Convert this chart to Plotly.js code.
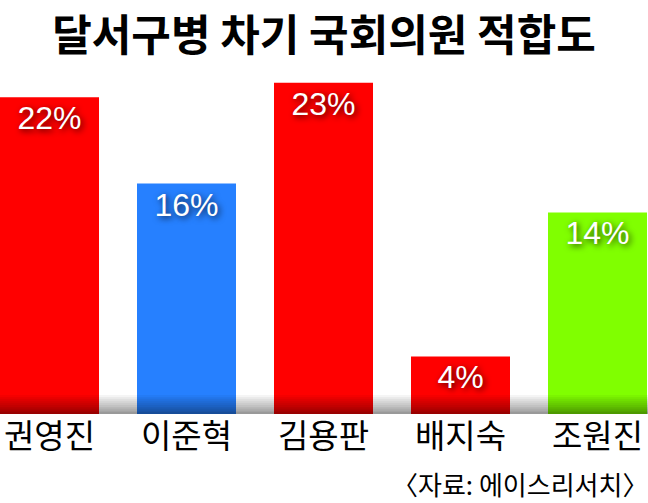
<!DOCTYPE html>
<html><head><meta charset="utf-8">
<script src="https://cdn.plot.ly/plotly-3.0.1.min.js"></script>
<style>html,body{margin:0;padding:0;background:#fff}</style>
</head><body>
<div id="chart" style="width:648px;height:503px"></div>
<script>
const candidates = ['권영진','이준혁','김용판','배지숙','조원진'];
const support = [22, 16, 23, 4, 14];
const barColors = ['#ff0000','#2680ff','#ff0000','#ff0000','#80ff00'];
const positions = [0,1,2,3,4];

const shapes = [];
const steps = 10;
for (let i = 0; i < steps; i++) {
  const h = 19/344;
  shapes.push({type:'rect', xref:'paper', yref:'paper', layer:'above',
    x0:0, x1:1, y0: (h/steps)*i, y1: (h/steps)*(i+1),
    fillcolor:'#000', opacity: 0.4*(1 - i/steps), line:{width:0}});
}

const trace = {
  type:'bar', x: positions, y: support,
  marker:{color: barColors, line:{width:0}},
  width: 99/137,
  text: support.map(v => v + '%'),
  textposition:'inside', insidetextanchor:'end', textangle:0,
  constraintext:'none',
  textfont:{family:'Liberation Sans, Arial, sans-serif', size:32, color:'#fff',
            shadow:'2px 2px 6px rgba(0,0,0,0.75)'},
  hoverinfo:'none', cliponaxis:true
};

const layout = {
  width:648, height:503,
  margin:{l:0, r:0, t:70, b:89, pad:0},
  paper_bgcolor:'#fff', plot_bgcolor:'#fff',
  showlegend:false,
  title:{text:'달서구병 차기 국회의원 적합도', x:0.5, xanchor:'center', y:0.929, yanchor:'middle',
         font:{family:'Noto Sans CJK KR', size:43, color:'#000', weight:'bold'}},
  xaxis:{range:[-49.5/137, (648-49.5)/137], tickvals: positions, ticktext: candidates,
         showgrid:false, zeroline:false, showline:false, ticks:'',
         tickfont:{family:'Noto Sans CJK KR', size:33, color:'#000'}, fixedrange:true},
  yaxis:{range:[0, 344/14.4], visible:false, fixedrange:true},
  shapes: shapes,
  annotations:[{text:'〈자료: 에이스리서치〉', xref:'paper', yref:'paper', x:1, y:0,
     xanchor:'right', yanchor:'middle', yshift:-69, xshift:2, showarrow:false,
     font:{family:'Noto Sans CJK KR', size:26, color:'#000'}}]
};

Plotly.newPlot('chart', [trace], layout, {displayModeBar:false, staticPlot:true});
</script>
</body></html>
